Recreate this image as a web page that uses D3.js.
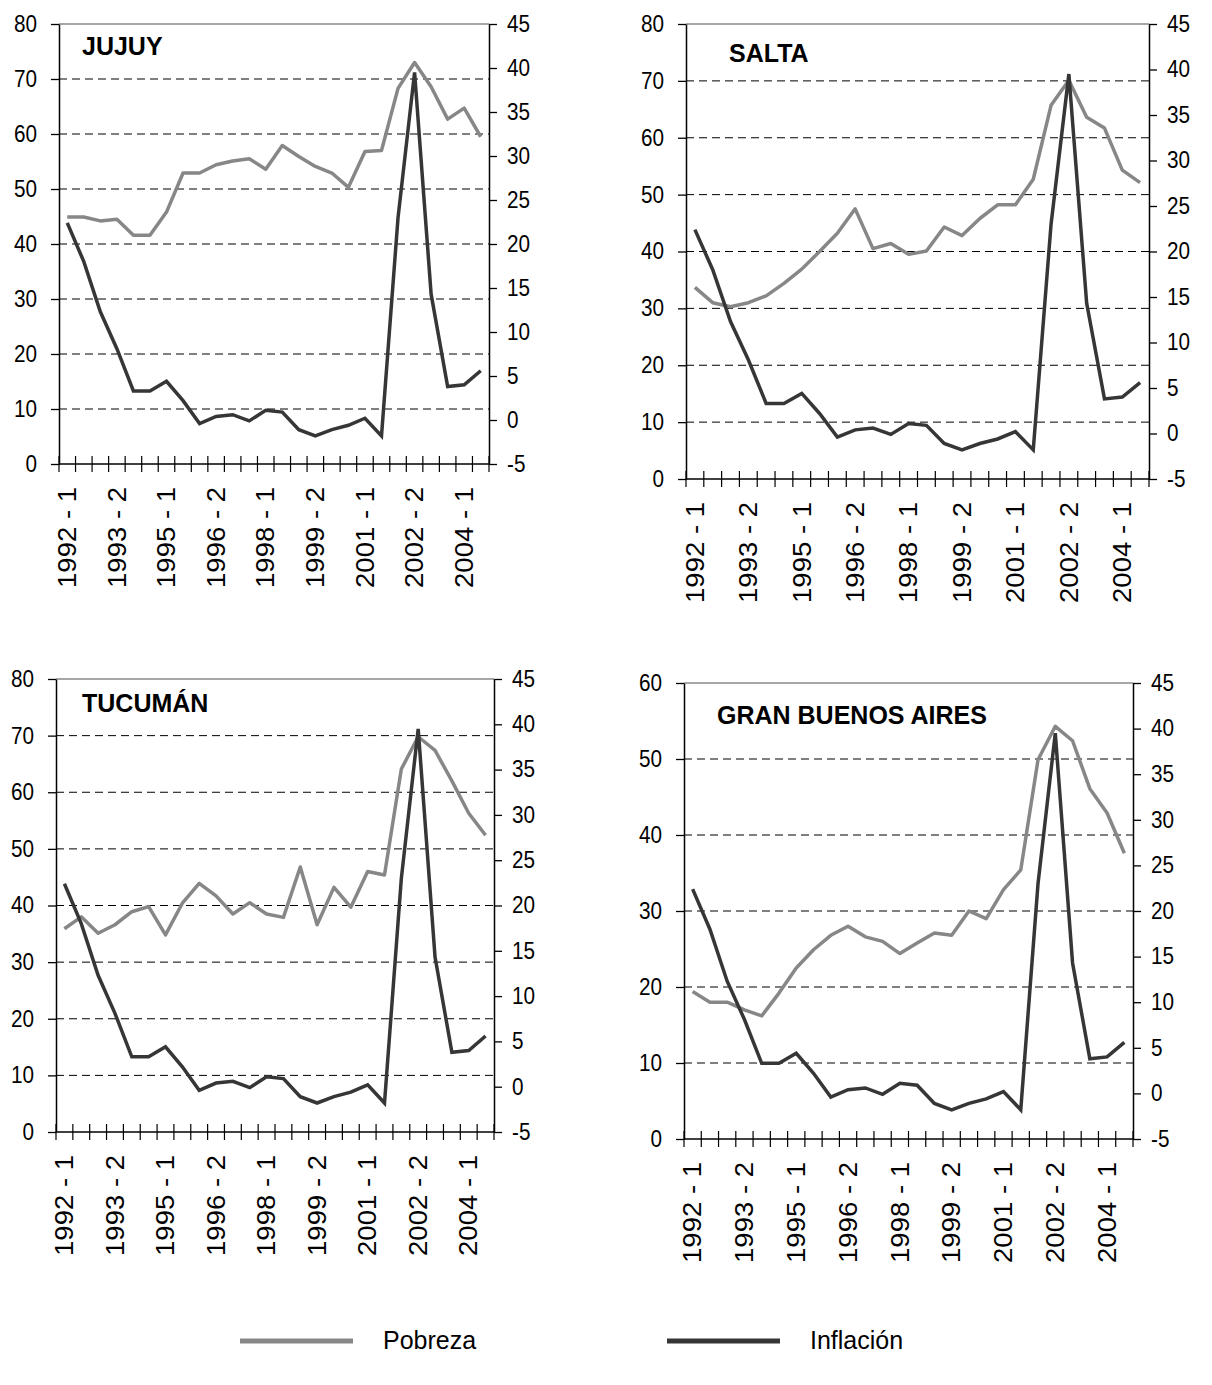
<!DOCTYPE html>
<html lang="es">
<head>
<meta charset="utf-8">
<title>Pobreza e inflación por región</title>
<script src="https://cdn.jsdelivr.net/npm/d3@7/dist/d3.min.js"></script>
<style>
  html, body { margin: 0; padding: 0; background: #fff; }
  svg { display: block; }
</style>
</head>
<body>
<div id="grafico"></div>
<script>
// ---- Datos ----
const semestres = [
  "1992 - 1", "1992 - 2", "1993 - 1", "1993 - 2", "1994 - 1", "1994 - 2",
  "1995 - 1", "1995 - 2", "1996 - 1", "1996 - 2", "1997 - 1", "1997 - 2",
  "1998 - 1", "1998 - 2", "1999 - 1", "1999 - 2", "2000 - 1", "2000 - 2",
  "2001 - 1", "2001 - 2", "2002 - 1", "2002 - 2", "2003 - 1", "2003 - 2",
  "2004 - 1", "2004 - 2"
];
const etiquetasX = ["1992 - 1", "1993 - 2", "1995 - 1", "1996 - 2", "1998 - 1",
  "1999 - 2", "2001 - 1", "2002 - 2", "2004 - 1"];

// inflación (eje derecho), igual en los cuatro paneles
const inflacion = [22.4, 18.0, 12.3, 8.1, 3.3, 3.3, 4.4, 2.2, -0.4, 0.4, 0.6, -0.1,
  1.1, 0.9, -1.1, -1.8, -1.1, -0.6, 0.2, -1.8, 23.0, 39.5, 14.3, 3.8, 4.0, 5.6];

// pobreza (eje izquierdo)
const pobrezaJujuy = [44.9, 44.9, 44.2, 44.5, 41.6, 41.6, 45.8, 52.9, 52.9, 54.4, 55.1, 55.5,
  53.6, 57.9, 55.9, 54.1, 52.9, 50.3, 56.8, 57.0, 68.3, 73.0, 68.6, 62.7, 64.7, 59.5];
const pobrezaSalta = [33.7, 31.0, 30.3, 31.0, 32.2, 34.4, 36.9, 40.0, 43.2, 47.5, 40.5, 41.4,
  39.5, 40.1, 44.3, 42.8, 45.8, 48.2, 48.2, 52.7, 65.7, 70.1, 63.6, 61.7, 54.3, 52.1];
const pobrezaTucuman = [35.9, 38.0, 35.1, 36.6, 38.9, 39.8, 34.8, 40.4, 43.9, 41.7, 38.5, 40.5,
  38.5, 37.9, 46.8, 36.6, 43.2, 39.7, 46.0, 45.4, 64.1, 69.8, 67.4, 62.0, 56.3, 52.4];
const pobrezaGBA = [19.4, 18.0, 18.0, 17.0, 16.2, 19.2, 22.5, 24.9, 26.8, 28.0, 26.6, 26.0,
  24.4, 25.8, 27.1, 26.8, 30.0, 29.0, 32.8, 35.4, 49.9, 54.3, 52.4, 46.1, 42.9, 37.6];

const regiones = ["JUJUY", "SALTA", "TUCUMÁN", "GRAN BUENOS AIRES"];
const maximosIzq = [80, 80, 80, 60];
const series = [pobrezaJujuy, pobrezaSalta, pobrezaTucuman, pobrezaGBA];
const leyenda = ["Pobreza", "Inflación"];

// ---- Disposición ----
const ancho = 1212, alto = 1385;
const fuente = "'Liberation Sans', Arial, Helvetica, sans-serif";
const colorPobreza = "#878787";
const colorInflacion = "#363636";

const marcos = [
  { x0: 59,  x1: 489,  y0: 24,  y1: 464,  tx: 82,  ty: 55 },
  { x0: 686, x1: 1149, y0: 24,  y1: 479,  tx: 729, ty: 62 },
  { x0: 56,  x1: 494,  y0: 679, y1: 1132, tx: 82,  ty: 712 },
  { x0: 684, x1: 1133, y0: 683, y1: 1139, tx: 717, ty: 724 }
];

const svg = d3.select("#grafico").append("svg")
  .attr("width", ancho)
  .attr("height", alto)
  .attr("font-family", fuente);

svg.append("rect").attr("width", ancho).attr("height", alto).attr("fill", "#fff");

// el original está algo estirado en vertical: se ajusta el largo de los textos
const ajustarLargo = (sel, factor) => {
  sel.each(function () {
    const largo = this.getComputedTextLength();
    d3.select(this).attr("textLength", largo * factor).attr("lengthAdjust", "spacingAndGlyphs");
  });
};

const estiloEje = (g) => {
  g.attr("font-family", fuente).attr("font-size", 23);
  g.selectAll("text").attr("fill", "#000");
  g.selectAll("line").attr("stroke", "#000").attr("stroke-width", 1.3);
  g.select(".domain").attr("stroke", "#000").attr("stroke-width", 1.5);
};

const dibujarPanel = (i) => {
  const m = marcos[i];
  const g = svg.append("g");

  const x = d3.scaleBand().domain(semestres).range([m.x0, m.x1]).padding(0);
  const yIzq = d3.scaleLinear().domain([0, maximosIzq[i]]).range([m.y1, m.y0]);
  const yDer = d3.scaleLinear().domain([-5, 45]).range([m.y1, m.y0]);
  const cx = (s) => x(s) + x.bandwidth() / 2;

  const ticksIzq = d3.range(0, maximosIzq[i] + 1, 10);

  // líneas de grilla punteadas
  g.append("g").selectAll("line")
    .data(ticksIzq.filter(v => v > 0 && v < maximosIzq[i]))
    .join("line")
    .attr("x1", m.x0).attr("x2", m.x1)
    .attr("y1", d => yIzq(d)).attr("y2", d => yIzq(d))
    .attr("stroke", "#000").attr("stroke-width", 1)
    .attr("stroke-dasharray", "8,5");

  // borde superior
  g.append("line")
    .attr("x1", m.x0).attr("x2", m.x1)
    .attr("y1", m.y0).attr("y2", m.y0)
    .attr("stroke", "#8a8a8a").attr("stroke-width", 1.5);

  // eje izquierdo
  const ejeIzq = g.append("g")
    .attr("transform", `translate(${m.x0},0)`)
    .call(d3.axisLeft(yIzq).tickValues(ticksIzq).tickFormat(d => String(d))
      .tickSize(8).tickPadding(14).tickSizeOuter(0))
    .call(estiloEje);
  ajustarLargo(ejeIzq.selectAll("text"), 0.9);

  // eje derecho
  const ejeDer = g.append("g")
    .attr("transform", `translate(${m.x1},0)`)
    .call(d3.axisRight(yDer).tickValues(d3.range(-5, 46, 5)).tickFormat(d => String(d))
      .tickSize(8).tickPadding(10).tickSizeOuter(0))
    .call(estiloEje);
  ajustarLargo(ejeDer.selectAll("text"), 0.9);

  // eje inferior: línea y marcas entre categorías
  g.append("line")
    .attr("x1", m.x0).attr("x2", m.x1)
    .attr("y1", m.y1).attr("y2", m.y1)
    .attr("stroke", "#000").attr("stroke-width", 1.5);

  const bordes = semestres.map(s => x(s)).concat([x.range()[1]]);
  g.append("g").selectAll("line")
    .data(bordes)
    .join("line")
    .attr("x1", d => d).attr("x2", d => d)
    .attr("y1", m.y1 - 8).attr("y2", m.y1 + 8)
    .attr("stroke", "#000").attr("stroke-width", 1.2);

  // etiquetas rotadas
  const ejeX = g.append("g")
    .attr("transform", `translate(0,${m.y1})`)
    .call(d3.axisBottom(x).tickValues(etiquetasX).tickSize(0))
    .call(estiloEje);
  ejeX.select(".domain").remove();
  const textosX = ejeX.selectAll("text")
    .attr("font-size", 25)
    .attr("transform", "rotate(-90)")
    .attr("text-anchor", "end")
    .attr("x", -23)
    .attr("y", 0)
    .attr("dy", "0.35em");
  ajustarLargo(textosX, 1.1);

  // series
  g.append("path")
    .datum(series[i])
    .attr("fill", "none")
    .attr("stroke", colorPobreza)
    .attr("stroke-width", 3.5)
    .attr("stroke-linejoin", "round")
    .attr("d", d3.line().x((d, k) => cx(semestres[k])).y(d => yIzq(d)));

  g.append("path")
    .datum(inflacion)
    .attr("fill", "none")
    .attr("stroke", colorInflacion)
    .attr("stroke-width", 3.5)
    .attr("stroke-linejoin", "miter")
    .attr("d", d3.line().x((d, k) => cx(semestres[k])).y(d => yDer(d)));

  // título del panel
  g.append("text")
    .attr("x", m.tx).attr("y", m.ty)
    .attr("font-size", 25)
    .attr("font-weight", "bold")
    .attr("fill", "#000")
    .text(regiones[i]);
};

regiones.forEach((r, i) => dibujarPanel(i));

// ---- Leyenda ----
const itemsLeyenda = [
  { x: 240, color: colorPobreza },
  { x: 667, color: colorInflacion }
];
const ley = svg.append("g");
itemsLeyenda.forEach((it, k) => {
  ley.append("line")
    .attr("x1", it.x).attr("x2", it.x + 113)
    .attr("y1", 1341).attr("y2", 1341)
    .attr("stroke", it.color).attr("stroke-width", 5);
  ley.append("text")
    .attr("x", it.x + 143).attr("y", 1349)
    .attr("font-size", 25)
    .attr("fill", "#000")
    .text(leyenda[k]);
});
</script>
</body>
</html>
